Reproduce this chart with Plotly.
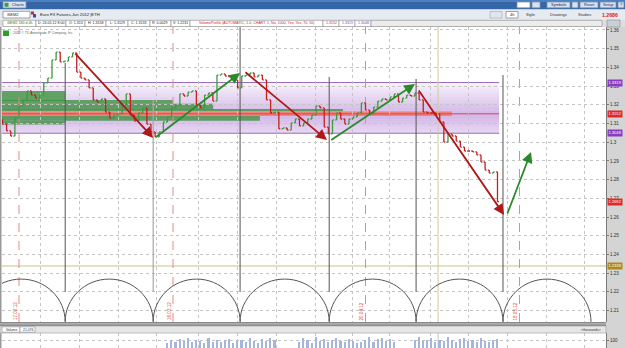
import plotly.graph_objects as go

W, H = 625, 348

# ---------------- data ----------------
bar_step_days = 0.75          # spacing of the (coarsened) 4h bars, in days from 17.02.12
first_bar_day = -3.0
first_open = 1.3120
closes = [
    1.3097, 1.3060, 1.3033, 1.3129, 1.3194, 1.3226, 1.3274, 1.3252, 1.3236, 1.3252,
    1.3317, 1.3343, 1.3440, 1.3482, 1.3429, 1.3434, 1.3456, 1.3477, 1.3375, 1.3343,
    1.3333, 1.3290, 1.3226, 1.3215, 1.3231, 1.3161, 1.3129, 1.3145, 1.3151, 1.3199,
    1.3258, 1.3145, 1.3113, 1.3156, 1.3183, 1.3097, 1.3055, 1.3028, 1.3055, 1.3108,
    1.3135, 1.3183, 1.3199, 1.3258, 1.3247, 1.3268, 1.3274, 1.3199, 1.3183, 1.3252,
    1.3263, 1.3220, 1.3359, 1.3365, 1.3354, 1.3349, 1.3333, 1.3290, 1.3354, 1.3359,
    1.3370, 1.3349, 1.3359, 1.3333, 1.3226, 1.3156, 1.3161, 1.3071, 1.3076, 1.3065,
    1.3103, 1.3124, 1.3087, 1.3103, 1.3124, 1.3145, 1.3194, 1.3183, 1.3081, 1.3044,
    1.3119, 1.3156, 1.3124, 1.3097, 1.3124, 1.3135, 1.3156, 1.3210, 1.3172, 1.3151,
    1.3188, 1.3220, 1.3231, 1.3226, 1.3242, 1.3258, 1.3215, 1.3236, 1.3252, 1.3247,
    1.3263, 1.3226, 1.3161, 1.3156, 1.3156, 1.3151, 1.3108, 1.3001, 1.3044, 1.3033,
    1.3006, 1.2974, 1.2953, 1.2953, 1.2948, 1.2932, 1.2894, 1.2851, 1.2835, 1.2841,
    1.2682,
]
volume = [
    60, 95, 70, 110, 85, 120, 75, 100, 90, 65,
    130, 80, 105, 70, 95, 115, 60, 88, 102, 74,
    125, 92, 68, 110, 85, 130, 95,
    0, 0, 0, 0, 0,
    78, 120, 100, 66, 140, 90, 115, 72,
    98, 125, 84, 70, 108, 92, 60, 75, 95, 140,
    80, 110, 130, 90, 118, 72,
    0, 0, 0, 0,
    100, 135, 85, 96, 120, 70, 105, 88, 140, 95,
    75, 110, 130, 85, 100, 70, 120, 92, 80, 105, 115,
]
volume_total = "21,076"

va_high = 1.3319
poc = 1.3152
va_low = 1.3048
last_price = 1.2682
header_price = "1.2686"
study_level = 1.2338

date_labels = ["17.02.12", "16.03.12", "20.04.12", "18.05.12"]
date_label_days = [0, 28, 63, 91]

cycle_days = [-7.6, 8.4, 24.4, 40.2, 56.4, 72.2, 88.0, 104.0]
cycle_line_tops = [1.3424, 1.3226, 1.3616, 1.3349, 1.3338, 1.3359]
arch_peak = 1.2268
cursor_day = 76.2

# volume-at-price bars of the profile (low, high, right end in days)
profile_lo = [1.3220, 1.3205, 1.3175, 1.3165, 1.3115, 1.3095]
profile_hi = [1.3274, 1.3226, 1.3205, 1.3178, 1.3140, 1.3115]
profile_end = [8.4, 28.0, 35.3, 58.9, 43.8, 8.4]
poc_band = (1.3140, 1.3164, 78.7)
va_end_day = 87.3

# trend arrows drawn on the chart: start (day, price) -> end (day, price)
arrow_x0 = [10.0, 24.7, 40.9, 56.5, 72.5, 88.7]
arrow_y0 = [1.3482, 1.3023, 1.3381, 1.3006, 1.3285, 1.2611]
arrow_x1 = [24.4, 40.2, 56.0, 72.0, 88.2, 93.1]
arrow_y1 = [1.3023, 1.3370, 1.3012, 1.3311, 1.2611, 1.2948]
arrow_up = [False, True, False, True, False, True]

y_ticks = [1.36, 1.35, 1.34, 1.33, 1.32, 1.31, 1.30, 1.29, 1.28, 1.27, 1.26, 1.25, 1.24, 1.23, 1.22, 1.21]
y_tick_text = ["1.36", "1.35", "1.34", "1.33", "1.32", "1.31", "1.3", "1.29", "1.28", "1.27",
               "1.26", "1.25", "1.24", "1.23", "1.22", "1.21"]
week_grid_days = [3.82, 11.09, 18.18, 25.09, 32.55, 39.64, 46.73, 53.82, 60.55, 67.45,
                  74.73, 81.64, 88.91, 95.82, 102.91]

# ---------------- geometry helpers (layout only) ----------------
def X(px):
    return px / W

def Y(py):
    return 1 - py / H

X_RANGE = [-3.09, 106.73]
Y_RANGE = [1.20385, 1.3616]
GREEN = "#2a8a2a"
RED = "#b01818"

bar_days = [first_bar_day + bar_step_days * i for i in range(len(closes))]
opens = [first_open] + closes[:-1]
highs = [max(o, c) for o, c in zip(opens, closes)]
lows = [min(o, c) for o, c in zip(opens, closes)]
vol_days = bar_days[-len(volume):]

fig = go.Figure()

fig.add_trace(go.Ohlc(
    x=bar_days, open=opens, high=highs, low=lows, close=closes,
    increasing=dict(line=dict(color="#3c9a3c", width=1.3)),
    decreasing=dict(line=dict(color="#c42020", width=1.3)),
    tickwidth=0.35, xaxis="x", yaxis="y", hoverinfo="skip"))

fig.add_trace(go.Bar(x=vol_days, y=volume, width=0.28, marker=dict(color="#a4b6da", line=dict(width=0)),
                     xaxis="x2", yaxis="y2", hoverinfo="skip"))

shapes = []

# ---- value-area shading (purple gradient) ----
n_bands = 18
span = va_high - va_low
for k in range(n_bands):
    lo = va_low + span * k / n_bands
    hi = va_low + span * (k + 1) / n_bands
    mid = (lo + hi) / 2
    d = abs(mid - (poc - 0.0005)) / max(va_high - poc, poc - va_low)
    a = 0.06 + 0.36 * max(0.0, 1 - d) ** 0.9
    shapes.append(dict(type="rect", xref="x", yref="y", x0=X_RANGE[0], x1=va_end_day, y0=lo, y1=hi,
                       fillcolor=f"rgba(150,80,200,{a:.3f})", line=dict(width=0), layer="below"))
for lvl in (va_high, va_low):
    shapes.append(dict(type="line", xref="x", yref="y", x0=X_RANGE[0], x1=va_end_day, y0=lvl, y1=lvl,
                       line=dict(color="#9a6cbc", width=1), layer="below"))

# ---- profile bars ----
for lo, hi, end in zip(profile_lo, profile_hi, profile_end):
    shapes.append(dict(type="rect", xref="x", yref="y", x0=X_RANGE[0], x1=end, y0=lo, y1=hi,
                       fillcolor="rgba(60,145,60,0.78)", line=dict(width=0), layer="below"))
shapes.append(dict(type="rect", xref="x", yref="y", x0=X_RANGE[0], x1=poc_band[2], y0=poc_band[0], y1=poc_band[1],
                   fillcolor="rgba(245,120,100,0.85)", line=dict(width=0), layer="below"))
shapes.append(dict(type="line", xref="x", yref="y", x0=X_RANGE[0], x1=va_end_day, y0=poc, y1=poc,
                   line=dict(color="#e04848", width=1), layer="below"))

# ---- study horizontal line ----
shapes.append(dict(type="line", xref="x", yref="y", x0=X_RANGE[0], x1=X_RANGE[1], y0=study_level, y1=study_level,
                   line=dict(color="#e4e0c4", width=2), layer="below"))

# ---- cursor line ----
for yr in ("y", "y2"):
    rng = Y_RANGE if yr == "y" else [0, 187.5]
    shapes.append(dict(type="line", xref="x" if yr == "y" else "x2", yref=yr, x0=cursor_day, x1=cursor_day,
                       y0=rng[0], y1=rng[1], line=dict(color="#d2c9a0", width=1), layer="below"))

# ---- date markers (dashed red) ----
for d in date_label_days:
    shapes.append(dict(type="line", xref="x", yref="y", x0=d, x1=d, y0=Y_RANGE[0], y1=Y_RANGE[1],
                       line=dict(color="#e38a8a", width=1, dash="dash"), layer="below"))

# ---- cycle arches & cycle lines ----
kappa = 0.5523
base = Y_RANGE[0] + 0.0001
h = arch_peak - base
for a, b in zip(cycle_days[:-1], cycle_days[1:]):
    r = (b - a) / 2
    c = a + r
    path = (f"M {a},{base} C {a},{base + kappa * h} {c - kappa * r},{arch_peak} {c},{arch_peak} "
            f"C {c + kappa * r},{arch_peak} {b},{base + kappa * h} {b},{base}")
    shapes.append(dict(type="path", xref="x", yref="y", path=path, line=dict(color="#555555", width=1)))
for i, (d, top) in enumerate(zip(cycle_days[1:7], cycle_line_tops)):
    col = "#a8a8a8" if i == 1 else "#555555"
    shapes.append(dict(type="line", xref="x", yref="y", x0=d, x1=d, y0=1.2199, y1=top,
                       line=dict(color=col, width=1.2 if i == 1 else 1)))

# ---------------- window chrome (paper coords) ----------------
def rect(x0, y0, x1, y1, fill, line=None, lw=1, layer="above"):
    shapes.append(dict(type="rect", xref="paper", yref="paper", x0=X(x0), x1=X(x1), y0=Y(y1), y1=Y(y0),
                       fillcolor=fill, line=dict(color=line or fill, width=lw if line else 0), layer=layer))

annotations = []

def text(x, y, s, size=4.5, color="#222", anchor="left", bold=False, font="Arial"):
    annotations.append(dict(xref="paper", yref="paper", x=X(x), y=Y(y), text=f"<b>{s}</b>" if bold else s,
                            showarrow=False, xanchor=anchor, yanchor="middle",
                            font=dict(size=size, color=color, family=font)))

# right axis column
rect(606, 27, 625, 348, "#d4d4d4", layer="below")
# title bar
rect(0, 0, 625, 9.5, "#3466a8")
rect(0, 0, 625, 2, "#4e80c0")
rect(3, 1.5, 26, 8, "#d9e1ec", "#7f96b8", 0.8)
rect(4.5, 2.8, 8.5, 6.8, "#3aa03a")
text(10, 4.8, "Charts", 4, "#1d2d4d")
rect(517, 2, 530, 7.8, "#ffffff", "#7f96b8", 0.8)
rect(532, 2, 540, 7.8, "#d9e1ec", "#7f96b8", 0.8)
rect(547, 2, 570, 7.8, "#d9e1ec", "#7f96b8", 0.8)
text(558.5, 4.9, "Symbols", 4, "#1d2d4d", "center")
rect(572, 2, 578, 7.8, "#d9e1ec", "#7f96b8", 0.8)
rect(580, 2, 598, 7.8, "#d9e1ec", "#7f96b8", 0.8)
text(589, 4.9, "Reset", 4, "#1d2d4d", "center")
rect(600, 2, 616, 7.8, "#d9e1ec", "#7f96b8", 0.8)
text(608, 4.9, "Setup", 4, "#1d2d4d", "center")
rect(618, 2, 624, 7.8, "#d9e1ec", "#7f96b8", 0.8)
text(621, 4.9, "?", 4, "#1d2d4d", "center")

# symbol row
rect(0, 9.5, 625, 19.5, "#e6ebf1")
rect(3, 11.3, 30, 18, "#ffffff", "#8c8c8c", 0.8)
text(4.5, 14.7, "/6EM2", 4, "#222")
rect(31, 11.5, 34, 14.5, "#c03030")
rect(33, 14, 36, 17.5, "#3050b0")
text(37.5, 14.8, "Euro FX Futures,Jun 2012 |ETH", 4.2, "#1a1a1a")
rect(490, 11.5, 502, 18, "#dfe5ec", "#9aa6b4", 0.6)
rect(506, 11.5, 518, 18, "#ffffff", "#8c8c8c", 0.8)
text(512, 14.8, "4h", 4, "#222", "center")
text(524, 14.8, "Style", 4, "#333")
text(548, 14.8, "Drawings", 4, "#333")
text(576, 14.8, "Studies", 4, "#333")
text(600, 14.8, header_price, 5.2, "#e01818", bold=True)

# info row
rect(0, 19.5, 625, 27, "#dedede")
cells = [
    ("/6EM2 180 d 4h", 3, 36, "#1a7a1a"), ("D: 24.05.12 8:00", 36, 66, "#222"),
    ("O: 1.313", 66, 85, "#222"), ("H: 1.3158", 85, 106, "#222"), ("L: 1.3129", 106, 128, "#222"),
    ("C: 1.3133", 128, 150, "#222"), ("R: 0.0029", 150, 171, "#222"), ("V: 1.2231", 171, 190, "#222"),
    ("VolumeProfile (AUTOMATIC, 1.0, CHART, 1, No, 1000, Yes, Yes, 70, 50)", 190, 323, "#d42020"),
    (f"{poc:.4f}", 323, 339, "#d42020"), (f"{va_high:.4f}", 339, 355, "#8a3cc0"),
    (f"{va_low:.4f}", 355, 371, "#8a3cc0"), ("", 371, 602, "#222"),
]
for s, x0, x1, col in cells:
    rect(x0, 20.3, x1, 26.5, "#ffffff" if s else "#ececec", "#8a8a8a", 0.6)
    if s:
        text((x0 + x1) / 2, 23.5, s, 3.6, col, "center")
rect(607, 20, 620, 27, "#c8d0d8", "#8a8a8a", 0.6)

# copyright
rect(3, 30.5, 9, 36, "#2aa02a", layer="above")
text(10.5, 33.3, "2012 © TD Ameritrade IP Company, Inc.", 3.4, "#666")

# left border
rect(0, 27, 1.5, 348, "#9a9a9a")

# pane separator + volume header
rect(0, 322, 606, 326, "#8a8a8a")
rect(0, 323.3, 606, 324.4, "#b8b8b8")
rect(0, 326, 606, 333, "#e6e6e6", "#9a9a9a", 0.6)
rect(2, 326.8, 20, 332.2, "#ffffff", "#8a8a8a", 0.6)
text(11, 329.6, "Volume", 3.4, "#333", "center")
rect(20, 326.8, 35, 332.2, "#ffffff", "#8a8a8a", 0.6)
text(27.5, 329.6, volume_total, 3.4, "#333", "center")
text(603, 329.6, "&lt;thousands&gt;", 3.4, "#333", "right")

# right-axis price tags
def tag(val, s, bg, fg="#ffffff"):
    annotations.append(dict(xref="paper", yref="y", x=X(607), y=val, text=s, showarrow=False,
                            xanchor="left", yanchor="middle", bgcolor=bg, borderpad=0.4,
                            font=dict(size=4.1, color=fg, family="Arial")))

tag(va_high, f"{va_high:.4f}", "#8a3cc0")
tag(poc, f"{poc:.4f}", "#e02828")
tag(va_low, f"{va_low:.4f}", "#8a3cc0")
tag(last_price, f"{last_price:.4f}", "#e02828")
tag(study_level, f"{study_level:.4f}", "#b08a1c")

# date labels
for d, s in zip(date_label_days, date_labels):
    annotations.append(dict(xref="x", yref="y", x=d, y=1.2097, text=s, textangle=-90, showarrow=False,
                            xanchor="right", xshift=0.5, yanchor="middle",
                            font=dict(size=4.6, color="#d04848", family="Arial")))

# trend arrows
for x0, y0, x1, y1, up in zip(arrow_x0, arrow_y0, arrow_x1, arrow_y1, arrow_up):
    col = GREEN if up else RED
    annotations.append(dict(xref="x", yref="y", axref="x", ayref="y", x=x1, y=y1, ax=x0, ay=y0, text="",
                            showarrow=True, arrowhead=2, arrowsize=1.2, arrowwidth=1.8, arrowcolor=col,
                            standoff=0, startstandoff=0))

grid = dict(showgrid=True, gridcolor="#c4c4c4", gridwidth=1, griddash="dot", zeroline=False)

fig.update_layout(
    width=W, height=H, margin=dict(l=0, r=0, t=0, b=0),
    paper_bgcolor="#ffffff", plot_bgcolor="#ffffff", showlegend=False,
    shapes=shapes, annotations=annotations, bargap=0,
    xaxis=dict(domain=[X(2), X(606)], range=X_RANGE, anchor="y", tickvals=week_grid_days,
               showticklabels=False, ticks="", rangeslider=dict(visible=False), showline=False, **grid),
    xaxis2=dict(domain=[X(2), X(606)], range=X_RANGE, anchor="y2", matches="x", tickvals=week_grid_days,
                showticklabels=False, ticks="", showline=False, **grid),
    yaxis=dict(domain=[Y(322), Y(27)], range=Y_RANGE, side="right", anchor="x", tickvals=y_ticks,
               ticktext=y_tick_text, ticks="outside", ticklen=2, tickcolor="#777",
               tickfont=dict(size=4.6, color="#333", family="Arial"), showline=True, linecolor="#7a7a7a",
               linewidth=1, **grid),
    yaxis2=dict(domain=[0, Y(333)], range=[0, 187.5], side="right", anchor="x2", tickvals=[100],
                ticktext=["100"], ticks="outside", ticklen=2, tickcolor="#777",
                tickfont=dict(size=4.6, color="#333", family="Arial"), showline=True, linecolor="#7a7a7a",
                linewidth=1, **grid),
)

fig.write_html("out.html")
